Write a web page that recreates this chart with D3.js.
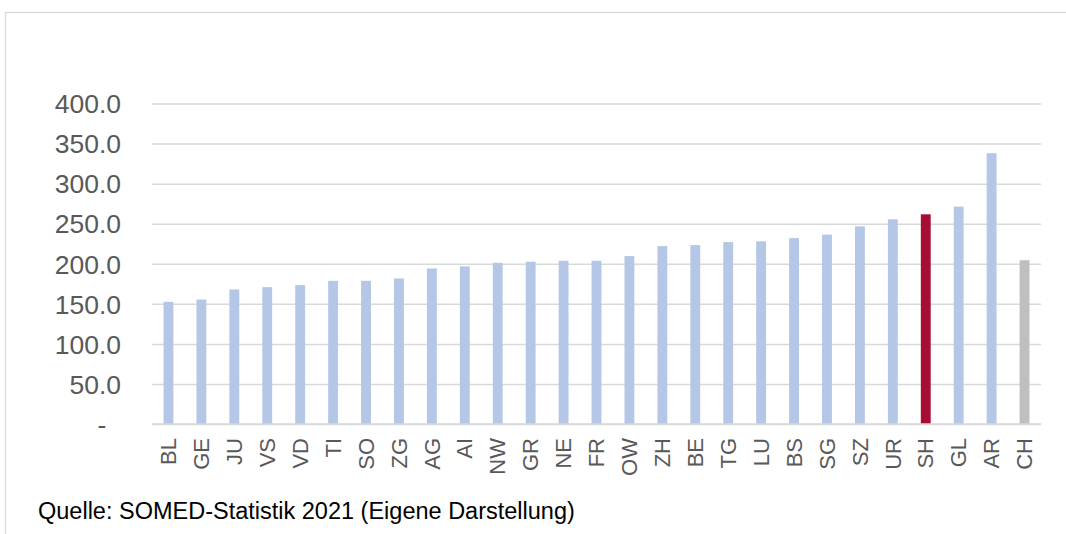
<!DOCTYPE html>
<html>
<head>
<meta charset="utf-8">
<script src="https://cdn.jsdelivr.net/npm/d3@7"></script>
<style>
  html, body { margin: 0; padding: 0; background: #fff; }
  svg { display: block; }
  text { font-family: "Liberation Sans", Arial, sans-serif; }
</style>
</head>
<body>
<svg id="chart" width="1066" height="534"></svg>
<script>
const categories = ["BL","GE","JU","VS","VD","TI","SO","ZG","AG","AI","NW","GR","NE","FR","OW","ZH","BE","TG","LU","BS","SG","SZ","UR","SH","GL","AR","CH"];
const values = [152.5,155.4,167.9,170.8,173.3,178.7,178.7,181.7,194.2,196.7,201.2,202.5,203.7,203.7,209.6,222.0,223.3,227.0,228.0,232.0,236.3,246.7,255.5,261.7,271.3,338.0,204.4];
const tickValues = [0,50,100,150,200,250,300,350,400];
const tickLabels = ["-  ","50.0","100.0","150.0","200.0","250.0","300.0","350.0","400.0"];
const highlight = "SH";
const total = "CH";
const source = "Quelle: SOMED-Statistik 2021 (Eigene Darstellung)";

const svg = d3.select("#chart");

// outer border
svg.append("rect")
  .attr("x", 5.5).attr("y", 12.5)
  .attr("width", 1100).attr("height", 600)
  .attr("fill", "none").attr("stroke", "#d9d9d9").attr("stroke-width", 1.3);

const x = d3.scaleBand().domain(categories).range([152, 1041]).paddingInner(0.7).paddingOuter(0.35);
const y = d3.scaleLinear().domain([0, 400]).range([424, 103.5]);

// gridlines
const yAxis = d3.axisLeft(y).tickValues(tickValues)
  .tickSize(-(1041 - 152))
  .tickFormat((d, i) => tickLabels[i]);
const gy = svg.append("g").attr("transform", "translate(152,0)").call(yAxis);
gy.select(".domain").remove();
gy.selectAll(".tick line").attr("stroke", "#d9d9d9").attr("stroke-width", 1.5);
gy.selectAll(".tick text")
  .attr("x", -31)
  .attr("dy", "0.35em")
  .style("white-space", "pre")
  .attr("fill", "#595959")
  .attr("font-size", "26.5px");

// bars
svg.append("g").selectAll("rect")
  .data(categories)
  .join("rect")
  .attr("x", d => x(d))
  .attr("width", x.bandwidth())
  .attr("y", (d, i) => y(values[i]))
  .attr("height", (d, i) => y(0) - y(values[i]))
  .attr("fill", d => d === highlight ? "#a80d35" : (d === total ? "#bfbfbf" : "#b4c7e7"));

// baseline
svg.append("line")
  .attr("x1", 152).attr("x2", 1041)
  .attr("y1", y(0)).attr("y2", y(0))
  .attr("stroke", "#d9d9d9").attr("stroke-width", 1.5);

// x axis labels
const xAxis = d3.axisBottom(x).tickSize(0).tickPadding(0);
const gx = svg.append("g").attr("transform", `translate(0,${y(0)})`).call(xAxis);
gx.select(".domain").remove();
gx.selectAll(".tick text")
  .attr("transform", "rotate(-90)")
  .attr("x", -14)
  .attr("y", 0)
  .attr("dy", "0.35em")
  .attr("text-anchor", "end")
  .attr("fill", "#595959")
  .attr("font-size", "22px");

// source note
svg.append("text")
  .attr("x", 38).attr("y", 519)
  .attr("fill", "#000")
  .attr("font-size", "23.5px")
  .text(source);
</script>
</body>
</html>
